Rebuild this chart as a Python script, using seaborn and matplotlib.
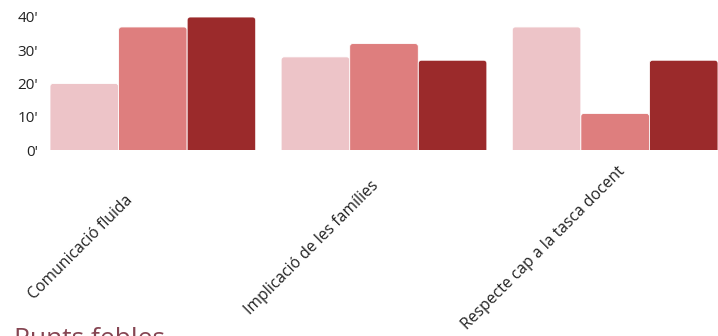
import pandas as pd
import matplotlib
matplotlib.use("Agg")
import matplotlib.pyplot as plt
import matplotlib.transforms as mtransforms
import seaborn as sns
from matplotlib.patches import FancyBboxPatch

# dades del gràfic
categories = ["Comunicació fluida", "Implicació de les famílies", "Respecte cap a la tasca docent"]
series = ["Baix", "Mitjà", "Alt"]
valors_baix = [20, 28, 37]
valors_mitja = [37, 32, 11]
valors_alt = [40, 27, 27]
y_ticks = [0, 10, 20, 30, 40]
y_labels = ["0'", "10'", "20'", "30'", "40'"]
colors = ["#EDC4C8", "#DE7E7E", "#9B2A2B"]

df = pd.DataFrame({
    "categoria": categories * 3,
    "serie": [series[0]] * 3 + [series[1]] * 3 + [series[2]] * 3,
    "valor": valors_baix + valors_mitja + valors_alt,
})

sns.set_style("white")
plt.rcParams["font.family"] = ["Open Sans", "DejaVu Sans"]

fig = plt.figure(figsize=(7.18, 3.36), dpi=100)
ax = fig.add_axes([50 / 718, 1 - 150 / 336, 668 / 718, 133 / 336])

sns.barplot(data=df, x="categoria", y="valor", hue="serie", hue_order=series,
            palette=colors, width=0.89, saturation=1, legend=False, ax=ax)

# cantonades arrodonides a la part de dalt
px_x = 231.0  # pixels per categoria
px_y = 133.0 / 40.0
r = 3.0 / px_x
aspect = px_x / px_y
for p in list(ax.patches):
    x, w, h = p.get_x(), p.get_width(), p.get_height()
    fc = p.get_facecolor()
    p.remove()
    box = FancyBboxPatch((x, -2), w, h + 2,
                         boxstyle=f"round,pad=0,rounding_size={r}",
                         mutation_aspect=aspect, facecolor=fc,
                         edgecolor="white", linewidth=0.6, clip_on=True)
    ax.add_patch(box)

ax.set_xlim(-0.445, 2.445)
ax.set_ylim(0, 40)
ax.set_yticks(y_ticks)
ax.set_yticklabels(y_labels, fontsize=11, color="#222222")
ax.tick_params(axis="y", length=0, pad=8.5)
ax.set_xticks([])
ax.set_xlabel("")
ax.set_ylabel("")
sns.despine(ax=ax, left=True, bottom=True)

# etiquetes de categoria inclinades (centrades una mica a l'esquerra de cada grup)
trans = mtransforms.blended_transform_factory(ax.transData, fig.transFigure)
shift = mtransforms.ScaledTranslation(-72 / 100, 0, fig.dpi_scale_trans)
for i, txt in enumerate(categories):
    ax.text(i, 1 - 248 / 336, txt, rotation=45, ha="center", va="center",
            fontsize=11.3, color="#222222", transform=trans + shift, clip_on=False)

fig.text(14 / 718, 1 - 327 / 336, "Punts febles", ha="left", va="top",
         fontsize=19, color="#854552")

fig.savefig("out.png", dpi=100)
